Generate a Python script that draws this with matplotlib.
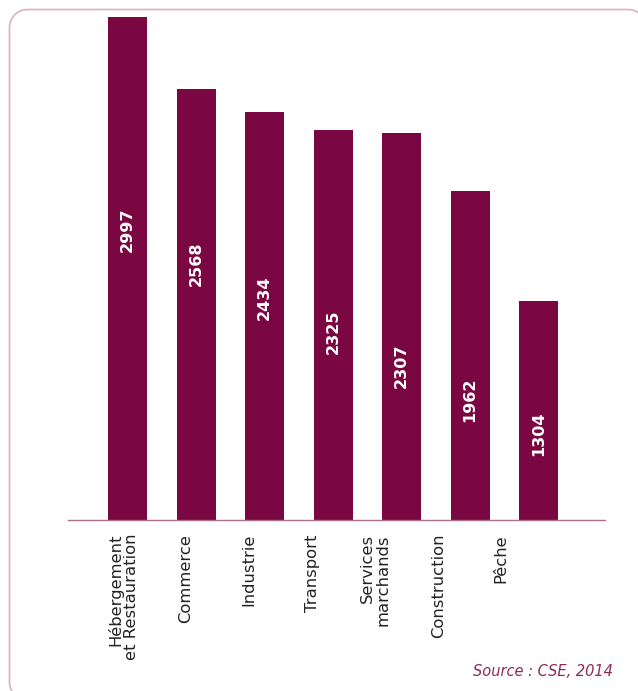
import matplotlib as ml
ml.use('Agg')
import numpy as np
import matplotlib.pyplot as plt
from matplotlib.lines import Line2D

# Data
categories = ['Hébergement\net Restauration', 'Commerce', 'Industrie', 'Transport',
              'Services\nmarchands', 'Construction', 'Pêche']
values = [2997, 2568, 2434, 2325, 2307, 1962, 1304]
source = 'Source : CSE, 2014'

bar_col = '#7B0742'
W, H = 638, 691

fig = plt.figure(figsize=(W / 100, H / 100), dpi=100)
ax = fig.add_axes([68 / W, 171 / H, 537 / W, 510 / H])

x = np.arange(len(values))
ax.bar(x, values, width=0.57, color=bar_col, zorder=2)

ax.set_xlim(-0.87, 6.97)
ax.set_ylim(0, 3039)

# value labels inside the bars, stepping down bar by bar
for i, v in enumerate(values):
    ax.text(i, 0, str(v), rotation=90, ha='center', va='center', color='white',
            fontsize=11.5, fontweight='bold', family='DejaVu Sans',
            transform=ax.get_xaxis_transform() + ml.transforms.ScaledTranslation(
                0, (290 - 34 * i) / 100, fig.dpi_scale_trans))

# category labels under the axis
for i, c in enumerate(categories):
    ax.text(-0.066 + 0.92 * i, 0, c, rotation=90, ha='center', va='top',
            multialignment='right', fontsize=11.8, color='#222222', family='DejaVu Sans',
            linespacing=1.1,
            transform=ax.get_xaxis_transform() + ml.transforms.ScaledTranslation(
                0, -14 / 100, fig.dpi_scale_trans))

for s in ['top', 'right', 'left']:
    ax.spines[s].set_visible(False)
ax.spines['bottom'].set_color('#A8708A')
ax.spines['bottom'].set_linewidth(1)
ax.set_xticks([])
ax.set_yticks([])

fig.text(613 / W, 1 - 672 / H, source, ha='right', va='center', fontsize=10.5,
         style='italic', color='#8E2A5A')

# rounded frame drawn in pixels (y measured from the top), right edge off canvas
x0, x1, y0, y1, r = 9.5, 646, 9.5, 700, 18
def arc(cx, cy, a0, a1):
    t = np.radians(np.linspace(a0, a1, 30))
    return cx + r * np.cos(t), cy - r * np.sin(t)
parts = [arc(x1 - r, y0 + r, 0, 90), arc(x0 + r, y0 + r, 90, 180),
         arc(x0 + r, y1 - r, 180, 270), arc(x1 - r, y1 - r, 270, 360)]
fx = np.concatenate([p[0] for p in parts] + [parts[0][0][:1]])
fy = np.concatenate([p[1] for p in parts] + [parts[0][1][:1]])
fig.add_artist(Line2D(fx / 100, (H - fy) / 100, transform=fig.dpi_scale_trans,
                      color='#D9B3C4', lw=1.2, clip_on=False))

fig.savefig('out.png', dpi=100)
